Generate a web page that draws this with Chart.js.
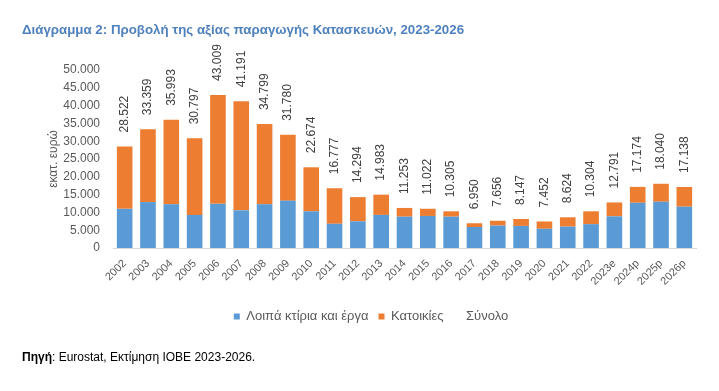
<!DOCTYPE html>
<html>
<head>
<meta charset="utf-8">
<script src="https://cdn.jsdelivr.net/npm/chart.js@4/dist/chart.umd.min.js"></script>
<style>
  html, body { margin: 0; padding: 0; background: #fff; }
  #wrap { position: relative; width: 719px; height: 391px; }
  #chart { position: absolute; left: 0; top: 0; }
  .title {
    position: absolute; left: 22px; top: 22px;
    font: bold 13.3px "Liberation Sans", sans-serif;
    color: #4f81bd; white-space: nowrap;
  }
  .source {
    position: absolute; left: 22px; top: 350px;
    font: 12px "Liberation Sans", sans-serif;
    color: #000; white-space: nowrap;
  }
</style>
</head>
<body>
<div id="wrap">
  <canvas id="chart" width="719" height="391"></canvas>
  <div class="title">Διάγραμμα 2: Προβολή της αξίας παραγωγής Κατασκευών, 2023-2026</div>
  <div class="source"><b>Πηγή</b>: Eurostat, Εκτίμηση ΙΟΒΕ 2023-2026.</div>
</div>
<script>
const YEARS = ['2002', '2003', '2004', '2005', '2006', '2007', '2008', '2009', '2010', '2011', '2012', '2013',
  '2014', '2015', '2016', '2017', '2018', '2019', '2020', '2021', '2022', '2023e', '2024p', '2025p', '2026p'];

// Λοιπά κτίρια και έργα
const OTHER = [11000, 12900, 12300, 9300, 12400, 10600, 12300, 13300, 10300, 6800, 7500, 9300,
  8800, 9000, 8800, 5900, 6300, 6200, 5400, 6000, 6700, 8900, 12700, 13000, 11600];

// Κατοικίες
const HOUSING = [17522, 20459, 23693, 21497, 30609, 30591, 22499, 18480, 12374, 9977, 6794, 5683,
  2453, 2022, 1505, 1050, 1356, 1947, 2052, 2624, 3604, 3891, 4474, 5040, 5538];

// Σύνολο (labels above bars)
const TOTAL = [28522, 33359, 35993, 30797, 43009, 41191, 34799, 31780, 22674, 16777, 14294, 14983,
  11253, 11022, 10305, 6950, 7656, 8147, 7452, 8624, 10304, 12791, 17174, 18040, 17138];

const Y_TICKS = [0, 5000, 10000, 15000, 20000, 25000, 30000, 35000, 40000, 45000, 50000];

const fmt = (v) => String(v).replace(/\B(?=(\d{3})+(?!\d))/g, '.');

const FONT = '"Liberation Sans", sans-serif';
const GREY = '#595959';

// draws the totals rotated above each bar
const totalLabels = {
  id: 'totalLabels',
  afterDatasetsDraw(chart) {
    const meta = chart.getDatasetMeta(2);
    const ctx = chart.ctx;
    ctx.save();
    ctx.font = '12px ' + FONT;
    ctx.fillStyle = '#404040';
    ctx.textAlign = 'left';
    ctx.textBaseline = 'middle';
    meta.data.forEach((pt, i) => {
      ctx.save();
      ctx.translate(pt.x, pt.y - 14);
      ctx.rotate(-Math.PI / 2);
      ctx.fillText(fmt(TOTAL[i]), 0, 0);
      ctx.restore();
    });
    ctx.restore();
  },
};

// legend centre in the original is a little right of the canvas centre
const shiftLegend = {
  id: 'shiftLegend',
  afterLayout(chart) {
    const lg = chart.legend;
    const d = 371 - (lg.left + lg.right) / 2;
    lg.left += d;
    lg.right += d;
  },
};

new Chart(document.getElementById('chart'), {
  type: 'bar',
  data: {
    labels: YEARS,
    datasets: [
      {
        label: 'Λοιπά κτίρια και έργα',
        data: OTHER,
        backgroundColor: '#5b9bd5',
        barPercentage: 0.67,
        categoryPercentage: 1,
        stack: 'bars',
      },
      {
        label: 'Κατοικίες',
        data: HOUSING,
        backgroundColor: '#ed7d31',
        barPercentage: 0.67,
        categoryPercentage: 1,
        stack: 'bars',
      },
      {
        type: 'line',
        label: 'Σύνολο',
        data: TOTAL,
        showLine: false,
        pointRadius: 0,
        backgroundColor: 'transparent',
        borderColor: 'transparent',
        stack: 'total',
      },
    ],
  },
  options: {
    responsive: false,
    animation: false,
    layout: { padding: { top: 70, left: 42, right: 23, bottom: 58 } },
    plugins: {
      legend: {
        position: 'bottom',
        labels: {
          boxWidth: 6,
          boxHeight: 6,
          color: GREY,
          font: { size: 13, family: FONT },
        },
      },
      tooltip: { enabled: false },
    },
    scales: {
      x: {
        stacked: true,
        grid: { display: false },
        border: { color: '#d9d9d9' },
        ticks: {
          color: GREY,
          font: { size: 11, family: FONT },
          minRotation: 45,
          maxRotation: 45,
          padding: 1,
        },
        afterFit: (scale) => { scale.height = 52; },
      },
      y: {
        stacked: true,
        min: 0,
        max: 50000,
        grid: { display: false },
        border: { display: false },
        afterBuildTicks: (scale) => { scale.ticks = Y_TICKS.map((v) => ({ value: v })); },
        ticks: {
          color: GREY,
          font: { size: 12, family: FONT },
          callback: (v) => fmt(v),
          padding: 5,
        },
        title: {
          display: true,
          text: 'εκατ. ευρώ',
          color: GREY,
          font: { size: 12, family: FONT },
        },
        afterFit: (scale) => { scale.width = 71; },
      },
    },
  },
  plugins: [totalLabels, shiftLegend],
});
</script>
</body>
</html>
